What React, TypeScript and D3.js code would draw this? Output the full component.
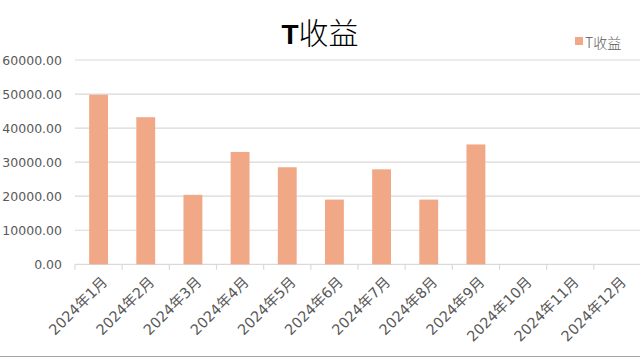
import React from "react";
import * as d3 from "d3";

const categories = ["2024年1月","2024年2月","2024年3月","2024年4月","2024年5月","2024年6月","2024年7月","2024年8月","2024年9月","2024年10月","2024年11月","2024年12月"];
const values: (number | null)[] = [49800, 43200, 20400, 33000, 28500, 19000, 27900, 19000, 35200, null, null, null];
const yTicks = [0, 10000, 20000, 30000, 40000, 50000, 60000];
const seriesName = "T收益";
const title = "收益";

const W = 640, H = 358;
const M = { left: 75, right: 641, top: 60, bottom: 264.3 };
const BAR = "#F1A887";
const GRID = "#d9d9d9";
const TXT = "#595959";
const FONT = "'DejaVu Sans', 'Noto Sans CJK SC', sans-serif";

export default function App() {
  const x = d3.scaleBand<string>().domain(categories).range([M.left, M.right]).paddingInner(0.6).paddingOuter(0.3);
  const xb = d3.scaleBand<string>().domain(categories).range([M.left, M.right]);
  const y = d3.scaleLinear().domain([0, 60000]).range([M.bottom, M.top]);
  const boundaries = categories.map((c) => xb(c)!).concat([M.right]);
  return (
    <svg width={W} height={H} style={{ position: "absolute", left: 0, top: 0, background: "#fff" }} fontFamily={FONT}>
      <rect x={0} y={0} width={W} height={H} fill="#fff" />
      {/* title */}
      <text x={320} y={44} textAnchor="middle" fontSize={30} fill="#000">
        <tspan fontWeight="bold" fontFamily="'Liberation Sans', Arial, sans-serif" fontSize={28}>T</tspan>
        <tspan fontFamily="'Noto Sans CJK SC', sans-serif" fontWeight={300}>{title}</tspan>
      </text>
      {/* legend */}
      <rect x={575} y={37} width={8} height={8} fill={BAR} />
      <text x={585} y={48} fontSize={14} fill={TXT} fontFamily="'Noto Sans CJK SC', sans-serif" fontWeight={300}>{seriesName}</text>
      {/* grid */}
      {yTicks.map((t) => (
        <g key={t}>
          <line x1={M.left} x2={M.right} y1={y(t)} y2={y(t)} stroke={GRID} strokeWidth={1.2} />
          <text x={62} y={y(t)} dy="0.36em" textAnchor="end" fontSize={12.5} fill={TXT}>{t.toFixed(2)}</text>
        </g>
      ))}
      {/* tick marks */}
      {boundaries.map((b, i) => (
        <line key={i} x1={b} x2={b} y1={M.bottom} y2={M.bottom + 5.5} stroke={GRID} strokeWidth={1.2} />
      ))}
      {/* bars */}
      {categories.map((c, i) => {
        const v = values[i];
        if (v == null) return null;
        return <rect key={c} x={x(c)!} y={y(v)} width={x.bandwidth()} height={y(0) - y(v)} fill={BAR} />;
      })}
      {/* x labels */}
      {categories.map((c) => {
        const cx = xb(c)! + xb.bandwidth() / 2;
        return (
          <text key={c} transform={`translate(${cx + 6},${M.bottom + 15}) rotate(-45)`} textAnchor="end" dy="0.35em" fontSize={14.5} fill={TXT}>{c}</text>
        );
      })}
      <line x1={0} x2={W} y1={356.5} y2={356.5} stroke="#a6a6a6" strokeWidth={1} />
    </svg>
  );
}
